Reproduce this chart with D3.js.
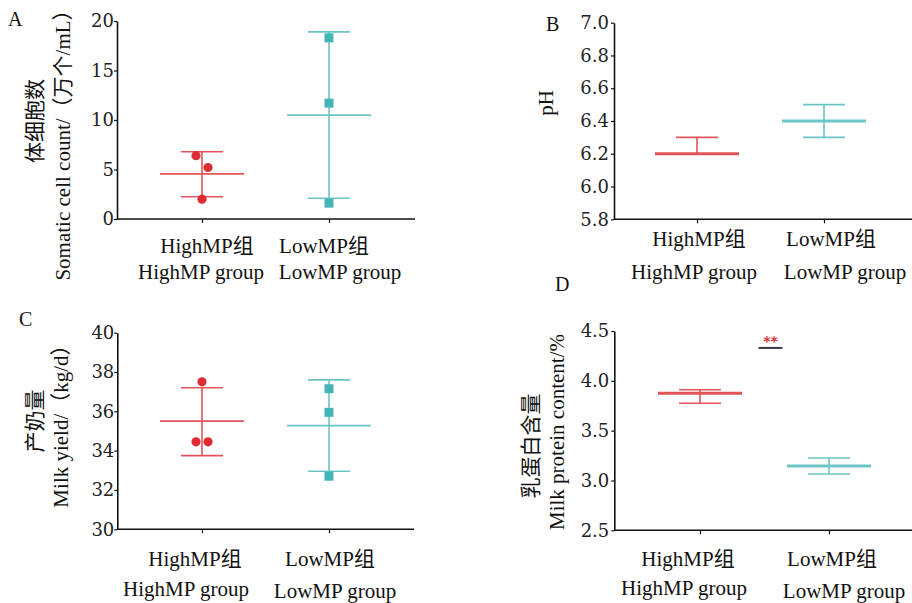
<!DOCTYPE html>
<html><head><meta charset="utf-8">
<script src="https://cdn.jsdelivr.net/npm/d3@7/dist/d3.min.js"></script>
<style>
html,body{margin:0;padding:0;background:#fff;}
svg{display:block;}
text{font-family:"Liberation Serif","Noto Sans CJK SC",serif;}
</style></head>
<body>
<svg id="chart" width="912" height="603"></svg>
<script>
// ---------- data ----------
const groups = ["HighMP组", "LowMP组"];
const groupsEn = ["HighMP group", "LowMP group"];

// A: somatic cell count
const sccTicks = [0, 5, 10, 15, 20];
const sccHigh = [6.4, 5.2, 2.0];
const sccLow = [18.3, 11.7, 1.6];
const sccMean = [4.55, 10.5];
const sccUpper = [6.8, 18.9];
const sccLower = [2.25, 2.1];

// B: pH
const phTicks = [5.8, 6.0, 6.2, 6.4, 6.6, 6.8, 7.0];
const phMean = [6.2, 6.4];
const phUpper = [6.3, 6.5];
const phLower = [6.2, 6.3];

// C: milk yield
const yieldTicks = [30, 32, 34, 36, 38, 40];
const yieldHigh = [37.5, 34.45, 34.45];
const yieldLow = [37.15, 35.95, 32.7];
const yieldMean = [35.5, 35.27];
const yieldUpper = [37.2, 37.6];
const yieldLower = [33.75, 32.95];

// D: milk protein content
const proteinTicks = [2.5, 3.0, 3.5, 4.0, 4.5];
const proteinMean = [3.875, 3.145];
const proteinUpper = [3.91, 3.225];
const proteinLower = [3.775, 3.065];
const proteinSig = 4.33;
const sigLabel = "**";

// ---------- drawing ----------
const svg = d3.select("#chart");
const RED_LINE = "#e2545a", RED_PT = "#dc2d35";
const TEAL_LINE = "#6cc5c5", TEAL_PT = "#45b4b5";
const lineCol = [RED_LINE, TEAL_LINE];
const ptCol = [RED_PT, TEAL_PT];

const panels = [
  { letter: "A", lx: 8, ly: 26,
    left: 117, right: 415, top: 21, bottom: 219, cats: [202, 329],
    domain: [0, 20], ticks: sccTicks, fmt: d3.format("d"), tickPad: 0,
    mean: sccMean, upper: sccUpper, lower: sccLower, meanW: 1.8,
    points: [sccHigh, sccLow], jitter: [[-6, 6, 0], [0, 0, 0]],
    titles: [{t: "体细胞数", x: 35, y: 121}, {t: "Somatic cell count/（万个/mL）", x: 63, y: 140}],
    xl: [[{dx: 5, y: 253}, {dx: -1, y: 279}], [{dx: -5, y: 253}, {dx: 11, y: 279}]] },
  { letter: "B", lx: 546, ly: 31,
    left: 614, right: 912, top: 22.7, bottom: 219.3, cats: [697, 824],
    domain: [5.8, 7.0], ticks: phTicks, fmt: d3.format(".1f"), tickPad: 2,
    mean: phMean, upper: phUpper, lower: phLower, meanW: 3,
    points: null,
    titles: [{t: "pH", x: 546, y: 103}],
    xl: [[{dx: 2, y: 246}, {dx: -3, y: 279}], [{dx: 7, y: 246}, {dx: 21, y: 279}]] },
  { letter: "C", lx: 19, ly: 326,
    left: 117.3, right: 414, top: 332.7, bottom: 529.3, cats: [202, 329],
    domain: [30, 40], ticks: yieldTicks, fmt: d3.format("d"), tickPad: 0,
    mean: yieldMean, upper: yieldUpper, lower: yieldLower, meanW: 1.8,
    points: [yieldHigh, yieldLow], jitter: [[0, -6, 6], [0, 0, 0]],
    titles: [{t: "产奶量", x: 35, y: 421}, {t: "Milk yield/（kg/d）", x: 61, y: 421}],
    xl: [[{dx: -7, y: 566}, {dx: -16, y: 596}], [{dx: 1, y: 566}, {dx: 6, y: 598}]] },
  { letter: "D", lx: 555, ly: 291,
    left: 614.3, right: 912, top: 331, bottom: 530.3, cats: [700, 829],
    domain: [2.5, 4.5], ticks: proteinTicks, fmt: d3.format(".1f"), tickPad: 2,
    mean: proteinMean, upper: proteinUpper, lower: proteinLower, meanW: 3,
    points: null, sig: true,
    titles: [{t: "乳蛋白含量", x: 531, y: 446}, {t: "Milk protein content/%", x: 557, y: 432}],
    xl: [[{dx: -12, y: 566}, {dx: -16, y: 595}], [{dx: 3, y: 566}, {dx: 15, y: 598}]] }
];

panels.forEach(p => {
  const g = svg.append("g");
  const x = d3.scalePoint().domain(groups).range(p.cats);
  const y = d3.scaleLinear().domain(p.domain).range([p.bottom, p.top]);

  // panel letter
  g.append("text").attr("x", p.lx).attr("y", p.ly).attr("font-size", 20)
    .style("fill", "#111").text(p.letter);

  // y axis
  const ya = g.append("g").attr("transform", `translate(${p.left},0)`)
    .call(d3.axisLeft(y).tickValues(p.ticks).tickFormat(p.fmt).tickSize(3).tickPadding(p.tickPad).tickSizeOuter(0));
  ya.select(".domain").attr("stroke", "#111").attr("stroke-width", 1.6);
  ya.selectAll(".tick line").attr("stroke", "#111").attr("stroke-width", 1.2);
  ya.selectAll(".tick text").attr("font-size", 18)
    .style("fill", "#222").style("font-family", '"DejaVu Serif",serif');

  // x axis
  const xa = g.append("g").attr("transform", `translate(0,${p.bottom})`)
    .call(d3.axisBottom(x).tickSize(4).tickFormat(""));
  xa.select(".domain").remove();
  xa.selectAll(".tick line").attr("stroke", "#111").attr("stroke-width", 1.2);
  g.append("line").attr("x1", p.left).attr("x2", p.right)
    .attr("y1", p.bottom).attr("y2", p.bottom)
    .attr("stroke", "#111").attr("stroke-width", 1.6);

  // x labels
  groups.forEach((grp, i) => {
    const cx = x(grp);
    g.append("text").attr("x", cx + p.xl[i][0].dx).attr("y", p.xl[i][0].y)
      .attr("text-anchor", "middle").attr("font-size", 21).style("fill", "#111").text(grp);
    g.append("text").attr("x", cx + p.xl[i][1].dx).attr("y", p.xl[i][1].y)
      .attr("text-anchor", "middle").attr("font-size", 21).style("fill", "#111").text(groupsEn[i]);
  });

  // y titles
  p.titles.forEach(t => {
    g.append("text").attr("transform", `translate(${t.x},${t.y}) rotate(-90)`)
      .attr("text-anchor", "middle").attr("dominant-baseline", "central")
      .attr("font-size", 21).style("fill", "#111").text(t.t);
  });

  // error bars
  groups.forEach((grp, i) => {
    const cx = x(grp);
    const c = lineCol[i];
    g.append("line").attr("x1", cx).attr("x2", cx)
      .attr("y1", y(p.upper[i])).attr("y2", y(p.lower[i]))
      .attr("stroke", c).attr("stroke-width", 1.6);
    [p.upper[i], p.lower[i]].forEach(v => {
      g.append("line").attr("x1", cx - 21).attr("x2", cx + 21)
        .attr("y1", y(v)).attr("y2", y(v)).attr("stroke", c).attr("stroke-width", 1.6);
    });
    g.append("line").attr("x1", cx - 42).attr("x2", cx + 42)
      .attr("y1", y(p.mean[i])).attr("y2", y(p.mean[i]))
      .attr("stroke", c).attr("stroke-width", p.meanW);
  });

  // points
  if (p.points) {
    p.points[0].forEach((v, j) => {
      g.append("circle").attr("cx", x(groups[0]) + p.jitter[0][j]).attr("cy", y(v))
        .attr("r", 4.6).attr("fill", ptCol[0]);
    });
    p.points[1].forEach((v, j) => {
      g.append("rect").attr("x", x(groups[1]) + p.jitter[1][j] - 4.5).attr("y", y(v) - 4.5)
        .attr("width", 9).attr("height", 9).attr("fill", ptCol[1]);
    });
  }

  // significance
  if (p.sig) {
    const mid = (x(groups[0]) + x(groups[1])) / 2 + 6;
    g.append("line").attr("x1", mid - 12).attr("x2", mid + 12)
      .attr("y1", y(proteinSig)).attr("y2", y(proteinSig))
      .attr("stroke", "#3a3a44").attr("stroke-width", 2);
    g.append("text").attr("x", mid).attr("y", y(proteinSig) - 2)
      .attr("text-anchor", "middle").attr("font-size", 14).attr("font-weight", "bold")
      .style("fill", "#d9303a").style("font-family", '"DejaVu Sans",sans-serif').text(sigLabel);
  }
});
</script>
</body></html>
